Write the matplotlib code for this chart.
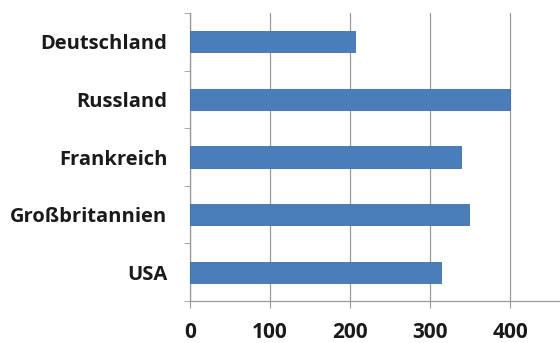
import matplotlib.pyplot as plt

# values
countries = ['USA', 'Großbritannien', 'Frankreich', 'Russland', 'Deutschland']
values = [313, 349, 338, 400, 206]
xticks = [0, 100, 200, 300, 400]

plt.rcParams['font.family'] = ['Open Sans', 'DejaVu Sans']

fig = plt.figure(figsize=(5.6, 3.43), dpi=100)
ax = fig.add_axes([0.339, 0.1224, 0.661, 0.8396])

pos = range(len(countries))
ax.barh(pos, values, height=0.37, color='#4A7EBB', edgecolor='#3F6FA8', linewidth=0.6, zorder=3)

ax.set_xlim(0, 462)
ax.set_ylim(-0.5, len(countries) - 0.5)
ax.set_xticks(xticks)
ax.set_xticklabels([str(t) for t in xticks], fontsize=15, fontweight='bold', color='#1a1a1a')
ax.set_yticks(list(pos))
ax.set_yticklabels(countries, fontsize=14.5, fontweight='bold', color='#1a1a1a')

# small ticks between categories on the left, like the original
ax.set_yticks([i + 0.5 for i in range(-1, len(countries))], minor=True)
ax.tick_params(axis='y', which='major', length=0, pad=16)
ax.tick_params(axis='y', which='minor', length=4, color='#9a9a9a', direction='out')
ax.tick_params(axis='x', length=5, color='#9a9a9a', direction='out', pad=10)

ax.grid(axis='x', color='#9a9a9a', linewidth=0.9, zorder=0)
for side in ['top', 'right']:
    ax.spines[side].set_visible(False)
for side in ['left', 'bottom']:
    ax.spines[side].set_color('#9a9a9a')
    ax.spines[side].set_linewidth(0.9)

fig.savefig('out.png', dpi=100)
